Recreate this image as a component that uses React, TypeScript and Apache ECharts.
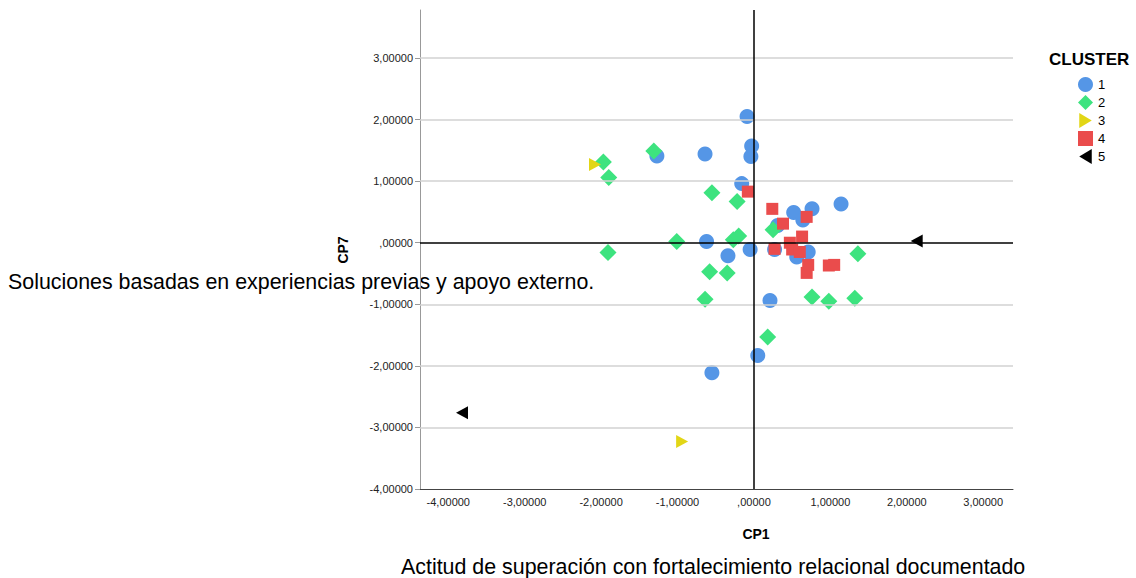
import React, { useEffect, useRef } from "react";
import * as echarts from "echarts";

// Cluster memberships on the CP1 / CP7 plane: [CP1, CP7]
const cluster1: number[][] = [
  [-0.09, 2.05], [-0.03, 1.57], [-0.04, 1.4], [-0.64, 1.44], [-1.27, 1.41],
  [-0.16, 0.96], [1.14, 0.63], [0.52, 0.49], [0.76, 0.55], [0.64, 0.37],
  [0.31, 0.28], [-0.05, -0.11], [0.27, -0.11], [0.56, -0.23], [0.71, -0.15],
  [-0.62, 0.02], [-0.34, -0.21], [0.21, -0.94], [0.05, -1.83], [-0.55, -2.11],
];
const cluster2: number[][] = [
  [-1.97, 1.31], [-1.9, 1.06], [-1.31, 1.49], [-1.91, -0.16], [-1.01, 0.02],
  [-0.55, 0.81], [-0.22, 0.67], [-0.27, 0.05], [-0.2, 0.11], [-0.58, -0.47],
  [-0.35, -0.49], [-0.64, -0.92], [0.25, 0.21], [1.36, -0.18], [0.76, -0.88],
  [0.98, -0.95], [1.32, -0.9], [0.18, -1.53],
];
const cluster3: number[][] = [[-2.08, 1.27], [-0.94, -3.23]];
const cluster4: number[][] = [
  [-0.08, 0.83], [0.24, 0.55], [0.69, 0.42], [0.38, 0.31], [0.63, 0.1],
  [0.47, 0.0], [0.27, -0.1], [0.5, -0.11], [0.6, -0.15], [0.71, -0.36],
  [0.69, -0.49], [0.98, -0.37], [1.05, -0.36],
];
const cluster5: number[][] = [[2.13, 0.03], [-3.82, -2.76]];

const clusterNames = ["1", "2", "3", "4", "5"];
const xTicks = [-4, -3, -2, -1, 0, 1, 2, 3];
const yTicks = [-4, -3, -2, -1, 0, 1, 2, 3];
const gridValues = [-3, -2, -1, 1, 2, 3];

const FONT = "'Liberation Sans', Arial, sans-serif";

// SPSS-style number: 3,00000 / ,00000 / -1,00000
const fmt = (v: number) => {
  const s = Math.abs(v).toFixed(5).replace(".", ",");
  const body = s.startsWith("0,") ? s.slice(1) : s;
  return (v < 0 ? "-" : "") + body;
};

export default function App() {
  const ref = useRef<HTMLDivElement>(null);

  useEffect(() => {
    if (!ref.current) return;
    const chart = echarts.init(ref.current, null, { renderer: "svg" });

    const rightTri = "path://M0,0L10,6L0,12Z";
    const leftTri = "path://M10,0L0,6L10,12Z";

    chart.setOption({
      animation: false,
      textStyle: { fontFamily: FONT },
      grid: { left: 420, top: 10, width: 593, height: 479, containLabel: false },
      title: {
        text: "CLUSTER",
        left: 1049,
        top: 51,
        padding: 0,
        textStyle: { fontFamily: FONT, fontSize: 17, fontWeight: "bold", color: "#000" },
      },
      legend: {
        data: clusterNames,
        orient: "vertical",
        left: 1078,
        top: 77,
        padding: 0,
        itemWidth: 15,
        itemHeight: 15,
        itemGap: 3,
        textStyle: { fontFamily: FONT, fontSize: 13, color: "#000" },
      },
      xAxis: {
        type: "value",
        min: -4.37,
        max: 3.39,
        splitLine: { show: false },
        axisLine: { show: true, onZero: false, lineStyle: { color: "#444", width: 1 } },
        axisTick: { show: false },
        axisLabel: {
          customValues: xTicks,
          formatter: fmt,
          fontSize: 11,
          color: "#222",
          fontFamily: FONT,
          margin: 7,
        },
      },
      yAxis: {
        type: "value",
        min: -4,
        max: 3.78,
        splitLine: { show: false },
        axisLine: { show: true, onZero: false, lineStyle: { color: "#999", width: 1 } },
        axisTick: { show: true, length: 5, customValues: yTicks, lineStyle: { color: "#999" } },
        axisLabel: {
          customValues: yTicks,
          formatter: fmt,
          fontSize: 11,
          color: "#222",
          fontFamily: FONT,
          margin: 7,
        },
      },
      graphic: [
        {
          type: "text",
          x: 756,
          y: 534,
          style: {
            text: "CP1",
            font: `bold 14px ${FONT}`,
            fill: "#000",
            align: "center",
            verticalAlign: "middle",
          },
        },
        {
          type: "text",
          x: 343,
          y: 250,
          rotation: Math.PI / 2,
          style: {
            text: "CP7",
            font: `bold 14px ${FONT}`,
            fill: "#000",
            align: "center",
            verticalAlign: "middle",
          },
        },
        {
          type: "text",
          x: 8,
          y: 282,
          style: {
            text: "Soluciones basadas en experiencias previas y apoyo externo.",
            font: `21.4px ${FONT}`,
            fill: "#000",
            align: "left",
            verticalAlign: "middle",
          },
        },
        {
          type: "text",
          x: 401,
          y: 567,
          style: {
            text: "Actitud de superación con fortalecimiento relacional documentado",
            font: `21.4px ${FONT}`,
            fill: "#000",
            align: "left",
            verticalAlign: "middle",
          },
        },
      ],
      series: [
        {
          name: "grid",
          type: "scatter",
          data: [],
          silent: true,
          markLine: {
            silent: true,
            symbol: ["none", "none"],
            label: { show: false },
            lineStyle: { color: "#d2d2d2", width: 1.5, type: "solid" },
            data: gridValues.map((v) => ({ yAxis: v })),
          },
        },
        {
          name: "1",
          type: "scatter",
          symbol: "circle",
          symbolSize: 15,
          itemStyle: { color: "#5596e6", opacity: 1 },
          data: cluster1,
        },
        {
          name: "2",
          type: "scatter",
          symbol: "diamond",
          symbolSize: [17, 17],
          itemStyle: { color: "#3de37f", opacity: 1 },
          data: cluster2,
        },
        {
          name: "3",
          type: "scatter",
          symbol: rightTri,
          symbolSize: [12, 13],
          itemStyle: { color: "#e2d616", opacity: 1 },
          data: cluster3,
        },
        {
          name: "4",
          type: "scatter",
          symbol: "rect",
          symbolSize: 12,
          itemStyle: { color: "#ea4c4c", opacity: 1 },
          data: cluster4,
        },
        {
          name: "5",
          type: "scatter",
          symbol: leftTri,
          symbolSize: [12, 13],
          itemStyle: { color: "#000000", opacity: 1 },
          data: cluster5,
        },
        {
          name: "ref",
          type: "scatter",
          data: [],
          silent: true,
          z: 10,
          markLine: {
            silent: true,
            symbol: ["none", "none"],
            label: { show: false },
            lineStyle: { color: "#000", width: 1.5, type: "solid" },
            data: [{ xAxis: 0 }, { yAxis: 0 }],
          },
        },
      ],
    });

    return () => chart.dispose();
  }, []);

  return (
    <div
      ref={ref}
      style={{ position: "fixed", left: 0, top: 0, width: 1136, height: 578, background: "#fff" }}
    />
  );
}
